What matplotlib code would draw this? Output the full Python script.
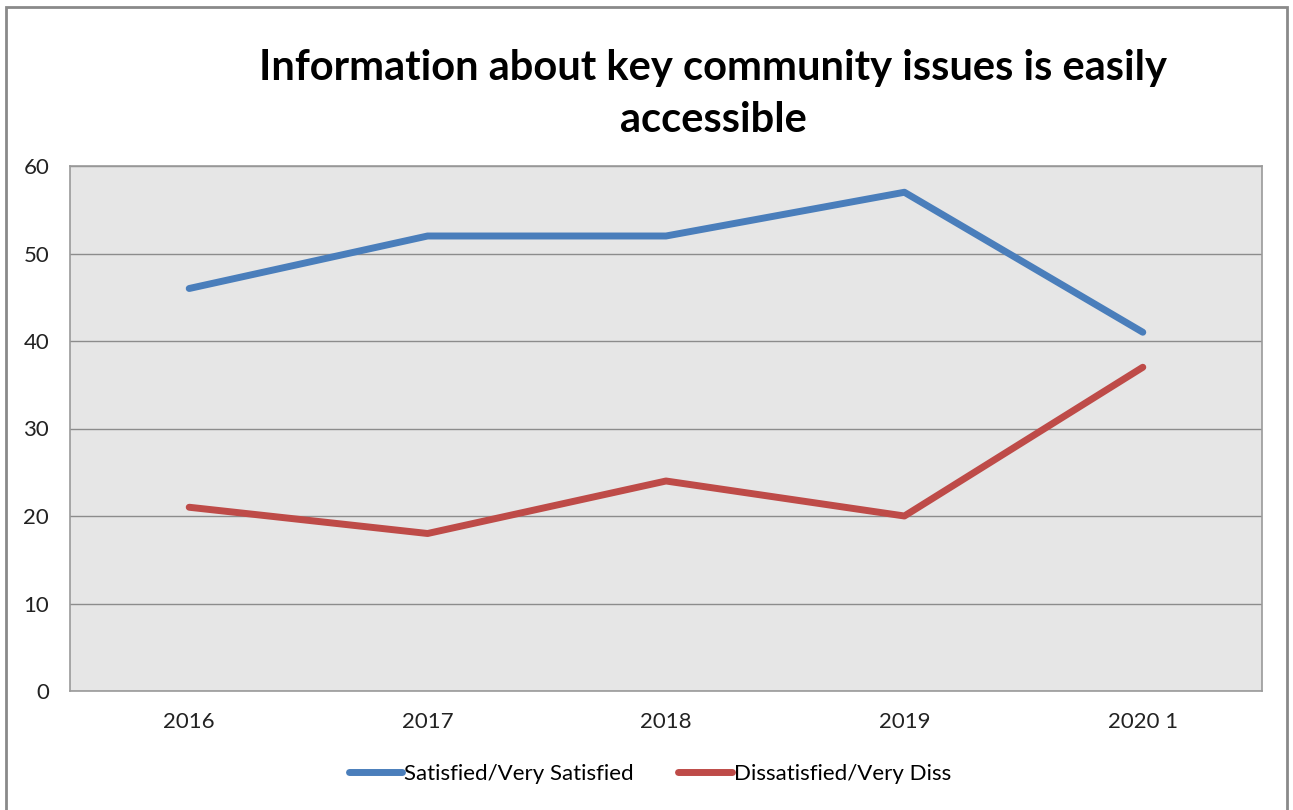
import matplotlib.pyplot as plt
from matplotlib.patches import Rectangle

years = ["2016", "2017", "2018", "2019", "2020 1"]
satisfied = [46, 52, 52, 57, 41]
dissatisfied = [21, 18, 24, 20, 37]

plt.rcParams['font.family'] = ['Lato', 'DejaVu Sans']

fig = plt.figure(figsize=(12.93, 8.10), dpi=100)
W, H = 1293, 810
# plot area in pixels: x 70..1262, y 166..691
ax = fig.add_axes([70 / W, 1 - 691 / H, (1262 - 70) / W, (691 - 166) / H])
ax.set_facecolor('#e6e6e6')

x = range(len(years))
ax.plot(x, satisfied, color='#4a7ebb', lw=5, solid_capstyle='round',
        label='Satisfied/Very Satisfied')
ax.plot(x, dissatisfied, color='#be4b48', lw=5, solid_capstyle='round',
        label='Dissatisfied/Very Diss')

ax.set_xlim(-0.5, len(years) - 0.5)
ax.set_ylim(0, 60)
ax.set_yticks(range(0, 61, 10))
ax.set_xticks(list(x))
ax.set_xticklabels(years)
ax.tick_params(length=0, labelsize=16, colors='#222222')
ax.tick_params(axis='y', pad=15)
ax.tick_params(axis='x', pad=15)
ax.grid(axis='y', color='#8c8c8c', lw=1)
ax.set_axisbelow(True)
for s in ax.spines.values():
    s.set_color('#9a9a9a')
    s.set_linewidth(1.2)

fig.text(713 / W, 1 - 68 / H, "Information about key community issues is easily",
         ha='center', va='center', fontsize=30, fontweight='bold')
fig.text(713 / W, 1 - 120 / H, "accessible",
         ha='center', va='center', fontsize=30, fontweight='bold')

leg = fig.legend(loc='center', bbox_to_anchor=(650 / W, 1 - 774 / H), ncol=2,
                 frameon=False, fontsize=16, handlelength=2.4, handletextpad=0.1,
                 columnspacing=2.0)

fig.patches.append(Rectangle((6 / W, -0.01), (1287 - 6) / W, 1 - 7 / H + 0.01,
                             transform=fig.transFigure, fill=False,
                             edgecolor='#8a8a8a', lw=2))

fig.savefig('out.png', dpi=100)
